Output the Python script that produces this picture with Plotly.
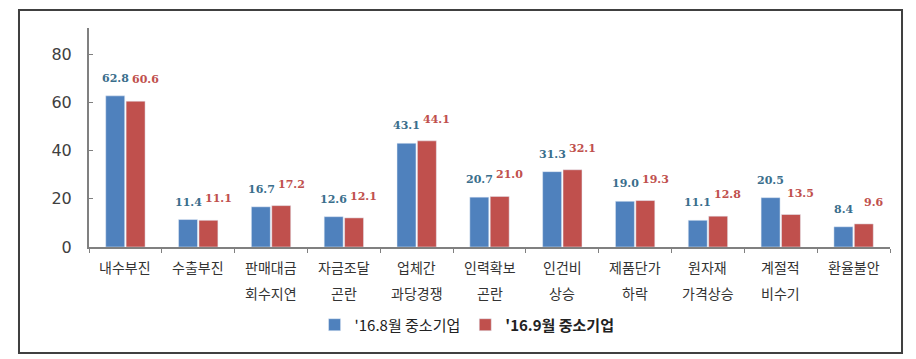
import plotly.graph_objects as go

categories_line1 = ["내수부진", "수출부진", "판매대금", "자금조달", "업체간", "인력확보", "인건비", "제품단가", "원자재", "계절적", "환율불안"]
categories_line2 = ["", "", "회수지연", "곤란", "과당경쟁", "곤란", "상승", "하락", "가격상승", "비수기", ""]
series_aug = [62.8, 11.4, 16.7, 12.6, 43.1, 20.7, 31.3, 19.0, 11.1, 20.5, 8.4]
series_sep = [60.6, 11.1, 17.2, 12.1, 44.1, 21.0, 32.1, 19.3, 12.8, 13.5, 9.6]
name_aug = "'16.8월 중소기업"
name_sep = "'16.9월 중소기업"
y_ticks = [0, 20, 40, 60, 80]

cats = [a + ("_" + b if b else "") for a, b in zip(categories_line1, categories_line2)]

BLUE = "#4F81BD"
RED = "#C0504D"
BLUE_TXT = "#3A6E8C"
FONT = "Noto Sans CJK KR"

fig = go.Figure()
fig.add_trace(go.Bar(x=cats, y=series_aug, name=name_aug, marker_color=BLUE))
fig.add_trace(go.Bar(x=cats, y=series_sep, name="<b>" + name_sep + "</b>", marker_color=RED))

annotations = []
for c, va, vs in zip(cats, series_aug, series_sep):
    annotations.append(dict(x=c, y=va, xref="x", yref="y", text="<b>%.1f</b>" % va,
                            showarrow=False, yanchor="bottom", xshift=-10, yshift=9,
                            font=dict(family="DejaVu Serif", size=11, color=BLUE_TXT)))
    annotations.append(dict(x=c, y=vs, xref="x", yref="y", text="<b>%.1f</b>" % vs,
                            showarrow=False, yanchor="bottom", xshift=20, yshift=13,
                            font=dict(family="DejaVu Serif", size=11, color=RED)))
for c, l1, l2 in zip(cats, categories_line1, categories_line2):
    annotations.append(dict(x=c, y=-0.091, xref="x", yref="paper", text=l1, showarrow=False,
                            yanchor="middle", font=dict(family=FONT, size=14, color="#333333")))
    if l2:
        annotations.append(dict(x=c, y=-0.21, xref="x", yref="paper", text=l2, showarrow=False,
                                yanchor="middle", font=dict(family=FONT, size=14, color="#333333")))

fig.update_layout(
    width=908, height=351,
    margin=dict(l=81, r=26, t=20, b=112, autoexpand=False),
    paper_bgcolor="white", plot_bgcolor="white",
    barmode="group", bargap=0.44, bargroupgap=0.07,
    font=dict(family=FONT, color="#333333"),
    showlegend=True,
    legend=dict(orientation="h", x=0.472, xanchor="center", y=-0.356, yanchor="middle",
                font=dict(family=FONT, size=15, color="#222222"), itemwidth=30,
                traceorder="normal", bgcolor="rgba(0,0,0,0)"),
    annotations=annotations,
    shapes=[dict(type="rect", xref="paper", yref="paper", x0=-0.0874, x1=1.015, y0=-0.484, y1=1.082,
                 line=dict(color="#404040", width=2), fillcolor="rgba(0,0,0,0)", layer="below")],
)
fig.update_xaxes(showticklabels=False, showline=True, linecolor="#808080", linewidth=2,
                 ticks="outside", tickson="boundaries", ticklen=4, tickcolor="#808080",
                 showgrid=False)
fig.update_yaxes(range=[0, 91], tickvals=y_ticks, showline=True, linecolor="#808080", linewidth=2,
                 ticks="inside", ticklen=4, tickcolor="#808080", showgrid=False, zeroline=False,
                 tickfont=dict(family="DejaVu Sans", size=16, color="#404040"), ticklabelstandoff=12)

fig.write_html("out.html")
